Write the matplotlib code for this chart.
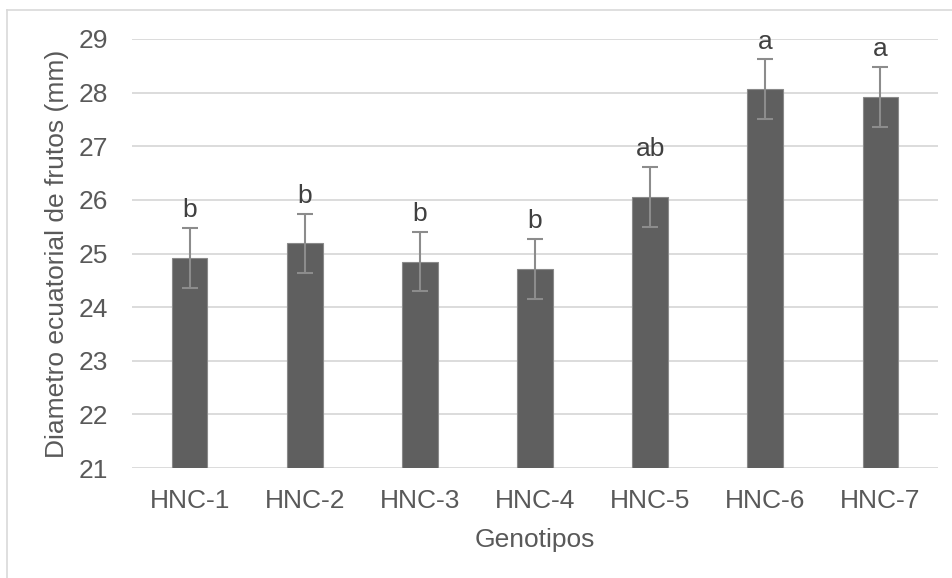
import matplotlib
matplotlib.use("Agg")
import matplotlib.pyplot as plt
from matplotlib.lines import Line2D

genotipos = ["HNC-1", "HNC-2", "HNC-3", "HNC-4", "HNC-5", "HNC-6", "HNC-7"]
diametro = [24.92, 25.19, 24.85, 24.71, 26.06, 28.06, 27.92]
error = [0.56, 0.55, 0.55, 0.56, 0.56, 0.56, 0.56]
letras = ["b", "b", "b", "b", "ab", "a", "a"]

plt.rcParams['font.family'] = ['Liberation Sans', 'DejaVu Sans']
texto = '#595959'
fs = 19

fig = plt.figure(figsize=(9.53, 5.78), dpi=100)
ax = fig.add_axes([132/953, 1-468/578, (938-132)/953, (468-39)/578])

x = range(len(genotipos))
ax.bar(x, diametro, width=0.31, color='#5f5f5f', edgecolor='#8a8a8a',
       linewidth=0.8, zorder=3)
ax.errorbar(x, diametro, yerr=error, fmt='none', ecolor='#8c8c8c',
            elinewidth=1.5, capsize=5.5, capthick=1.5, zorder=4)

for i in x:
    ax.annotate(letras[i], (i, diametro[i] + error[i]), xytext=(0, 4),
                textcoords='offset points', ha='center', va='bottom',
                fontsize=fs, color='#404040')

ax.set_ylim(21, 29)
ax.set_xlim(-0.5, 6.5)
ax.set_xticks(list(x))
ax.set_xticklabels(genotipos)
ax.set_yticks(range(21, 30))
ax.grid(axis='y', color='#d9d9d9', linewidth=1.3, zorder=0)
ax.set_axisbelow(True)
for s in ax.spines.values():
    s.set_visible(False)
ax.tick_params(length=0, labelsize=fs, labelcolor=texto)
ax.tick_params(axis='y', pad=17)
ax.tick_params(axis='x', pad=15)

ax.set_xlabel("Genotipos", fontsize=fs, color=texto, labelpad=11)
ax.set_ylabel("Diametro ecuatorial de frutos (mm)", fontsize=fs, color=texto,
              labelpad=7)

# chart area border (only top and left visible)
fig.add_artist(Line2D([6.5/953, 1], [1-10/578, 1-10/578], color='#d9d9d9', lw=1.2))
fig.add_artist(Line2D([6.5/953, 6.5/953], [0, 1-10/578], color='#d9d9d9', lw=1.2))

fig.savefig("out.png", dpi=100)
